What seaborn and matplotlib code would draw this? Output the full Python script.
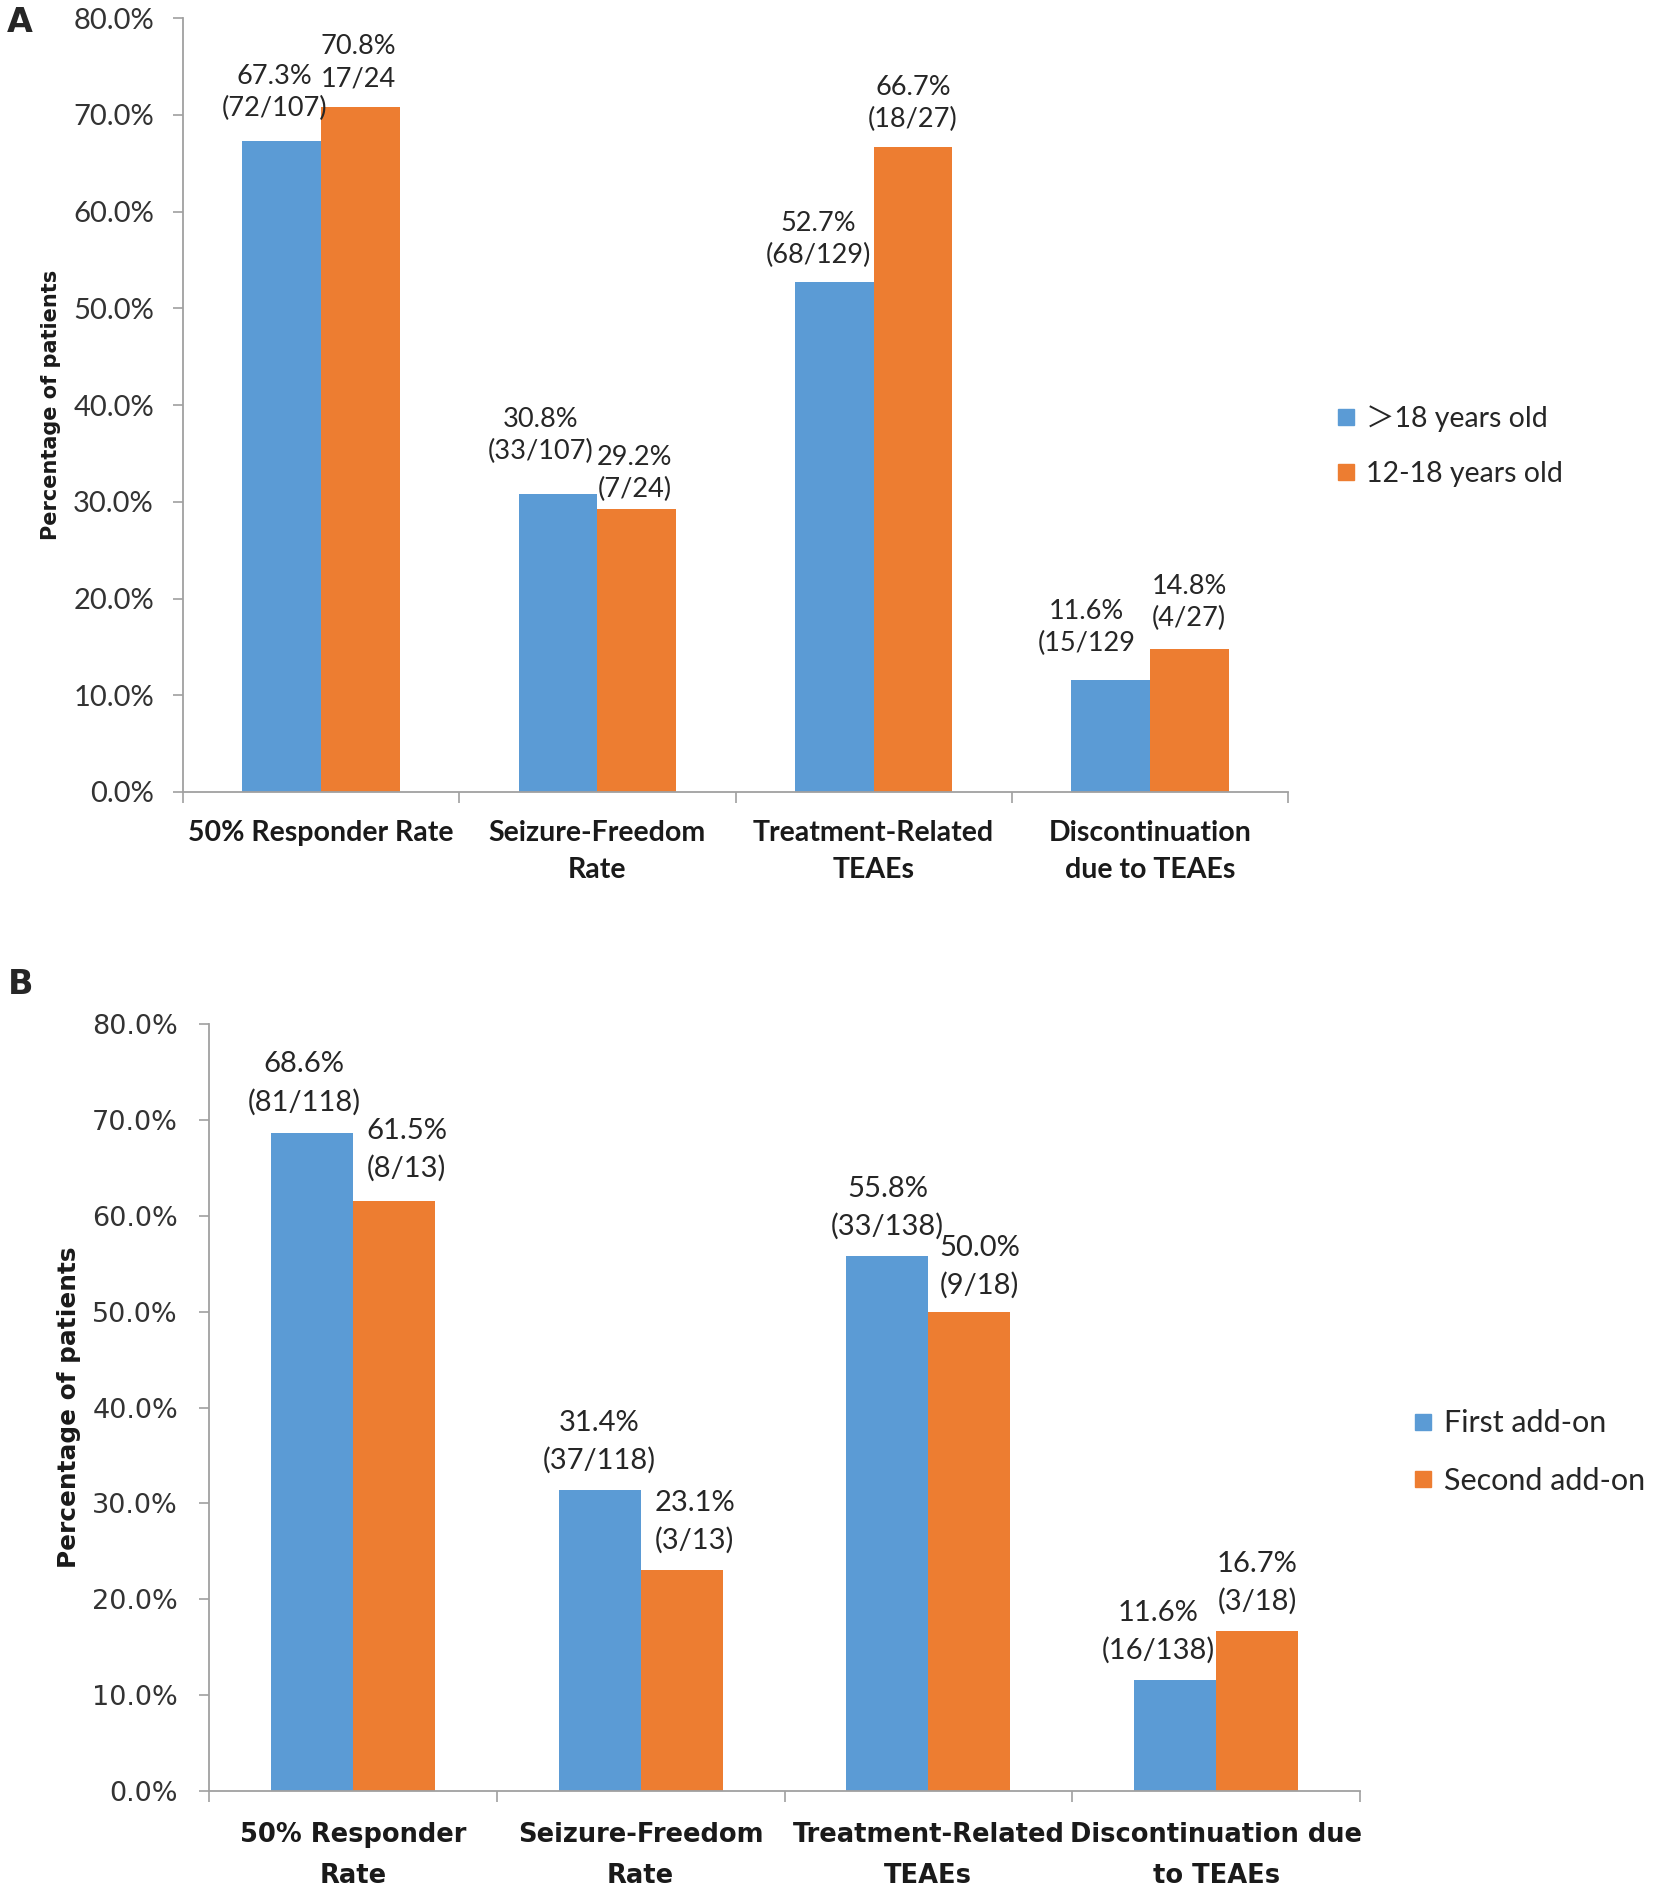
import pandas as pd
import seaborn as sns
import matplotlib.pyplot as plt
from matplotlib.lines import Line2D
from matplotlib.ticker import FuncFormatter, FixedLocator

# Panel A data: age groups
cats_a = ["50% Responder Rate", "Seizure-Freedom\nRate", "Treatment-Related\nTEAEs", "Discontinuation\ndue to TEAEs"]
groups_a = ["＞18 years old", "12-18 years old"]
adult_vals = [67.3, 30.8, 52.7, 11.6]
teen_vals = [70.8, 29.2, 66.7, 14.8]
adult_labels = ["67.3%\n(72/107)", "30.8%\n(33/107)", "52.7%\n(68/129)", "11.6%\n(15/129"]
teen_labels = ["70.8%\n17/24", "29.2%\n(7/24)", "66.7%\n(18/27)", "14.8%\n(4/27)"]

# Panel B data: add-on order
cats_b = ["50% Responder\nRate", "Seizure-Freedom\nRate", "Treatment-Related\nTEAEs", "Discontinuation due\nto TEAEs"]
groups_b = ["First add-on", "Second add-on"]
first_vals = [68.6, 31.4, 55.8, 11.6]
second_vals = [61.5, 23.1, 50.0, 16.7]
first_labels = ["68.6%\n(81/118)", "31.4%\n(37/118)", "55.8%\n(33/138)", "11.6%\n(16/138)"]
second_labels = ["61.5%\n(8/13)", "23.1%\n(3/13)", "50.0%\n(9/18)", "16.7%\n(3/18)"]

# label nudges in pixels (dx, dy), per hue then per category
nudge_a = [[(-7, 4), (-17, 14), (-16, -2), (-24, 8)], [(-2, 0), (-2, -9), (0, -1), (0, 2)]]
nudge_b = [[(-8, 2), (0, 0), (0, 0), (-17, 0)], [(13, 4), (13, 0), (10, -3), (0, 0)]]

blue = "#5B9BD5"
orange = "#ED7D31"
W, H, DPI = 1654, 1891, 100
PX = 72 / DPI  # pixels -> points

sns.set_style("white")
plt.rcParams["font.family"] = ["Lato", "Noto Sans CJK SC", "DejaVu Sans"]

fig = plt.figure(figsize=(W / DPI, H / DPI), dpi=DPI)
ax_a = fig.add_axes([183 / W, 1 - 792 / H, 1105 / W, 774 / H])
ax_b = fig.add_axes([209 / W, 1 - 1791 / H, 1151 / W, 767 / H])


def draw_panel(ax, cats, groups, v1, v2, l1, l2, nudges, tick_font, tick_size, tick_pad,
               xlab_font, xlab_size, xlab_pad, xlab_spacing, ann_size, ann_spacing,
               ylab_size, ylab_x):
    df = pd.DataFrame({
        "measure": cats * 2,
        "group": [groups[0]] * 4 + [groups[1]] * 4,
        "value": v1 + v2,
    })
    sns.barplot(data=df, x="measure", y="value", hue="group", order=cats, hue_order=groups,
                palette=[blue, orange], width=0.57, saturation=1, errorbar=None,
                linewidth=0, edgecolor="none", ax=ax)
    ax.get_legend().remove()

    labels = [l1, l2]
    for h, cont in enumerate(ax.containers):
        for i, bar in enumerate(cont):
            dx, dy = nudges[h][i]
            ax.annotate(labels[h][i], (bar.get_x() + bar.get_width() / 2, bar.get_height()),
                        xytext=(dx * PX, (16 + dy) * PX), textcoords="offset points",
                        ha="center", va="bottom", fontsize=ann_size, color="#262626",
                        linespacing=ann_spacing)

    ax.set_ylim(0, 80)
    ax.set_xlim(-0.5, 3.5)
    ax.set_yticks(range(0, 81, 10))
    ax.yaxis.set_major_formatter(FuncFormatter(lambda v, p: f"{v:.1f}%"))
    ax.tick_params(axis="y", which="major", direction="out", length=10 * PX, width=1.2,
                   color="#a0a0a0", pad=tick_pad * PX, labelsize=tick_size,
                   labelcolor="#333333", left=True)
    for t in ax.get_yticklabels():
        t.set_family(tick_font)
    ax.xaxis.set_minor_locator(FixedLocator([-0.5, 0.5, 1.5, 2.5, 3.5]))
    ax.tick_params(axis="x", which="major", length=0, pad=xlab_pad, labelsize=xlab_size)
    ax.tick_params(axis="x", which="minor", direction="out", length=8, width=1.2,
                   color="#a0a0a0", bottom=True)
    for t in ax.get_xticklabels():
        t.set_family(xlab_font)
        t.set_fontweight("bold")
        t.set_linespacing(xlab_spacing)
        t.set_color("#1a1a1a")

    ax.set_xlabel("")
    ax.set_ylabel("Percentage of patients", fontsize=ylab_size, fontweight="bold",
                  family="DejaVu Sans", color="#1a1a1a")
    ax.yaxis.set_label_coords(ylab_x, 0.5)
    sns.despine(ax=ax)
    for s in ["left", "bottom"]:
        ax.spines[s].set_color("#a0a0a0")
        ax.spines[s].set_linewidth(1.3)


draw_panel(ax_a, cats_a, groups_a, adult_vals, teen_vals, adult_labels, teen_labels, nudge_a,
           "Lato", 21, 19, "Lato", 20.5, 20, 1.55, 19.5, 1.35, 15, -0.110)
draw_panel(ax_b, cats_b, groups_b, first_vals, second_vals, first_labels, second_labels, nudge_b,
           "DejaVu Sans", 19.5, 21, "DejaVu Sans", 18.5, 22, 1.75, 21, 1.5, 17.8, -0.111)

# legends
handles_a = [Line2D([], [], marker="s", ls="", color=c, markersize=11) for c in [blue, orange]]
fig.legend(handles_a, groups_a, loc="center left", bbox_to_anchor=(1318 / W, 1 - 446 / H),
           frameon=False, fontsize=20.5, handletextpad=0.2, labelspacing=1.0,
           handlelength=1.0, borderpad=0)
handles_b = [Line2D([], [], marker="s", ls="", color=c, markersize=12) for c in [blue, orange]]
fig.legend(handles_b, groups_b, loc="center left", bbox_to_anchor=(1392 / W, 1 - 1452 / H),
           frameon=False, fontsize=22, handletextpad=0.2, labelspacing=0.95,
           handlelength=1.0, borderpad=0)

# panel letters
fig.text(20 / W, 1 - 22 / H, "A", fontsize=24, fontweight="bold", family="DejaVu Sans",
         ha="center", va="center")
fig.text(21 / W, 1 - 985 / H, "B", fontsize=24, fontweight="bold", family="DejaVu Sans",
         ha="center", va="center")

fig.savefig("out.png", dpi=DPI, facecolor="white")
